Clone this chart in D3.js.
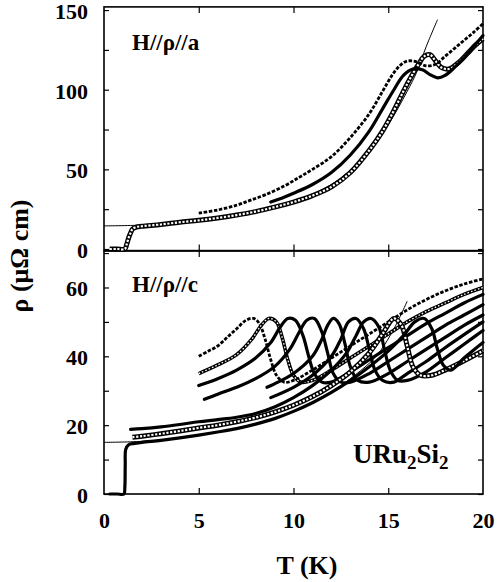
<!DOCTYPE html>
<html><head><meta charset="utf-8">
<script src="https://cdn.jsdelivr.net/npm/d3@7"></script>
<style>
html,body{margin:0;padding:0;background:#fff;}
svg text, svg tspan{font-family:"Liberation Serif","Times New Roman",Times,"DejaVu Serif",serif !important;font-weight:700 !important;}
</style></head>
<body>
<svg id="chart" width="499" height="582"></svg>
<script>
// ---------- data (T in K, rho in µΩ cm) ----------
const xTicks = [0, 5, 10, 15, 20];
const topTickLabels = [0, 50, 100, 150];
const botTickLabels = [0, 20, 40, 60];

// Top panel: H//rho//a
const topA = [[0.3,0],[0.7,0],[1.1,0],[1.2,3],[1.3,7],[1.4,10],[1.5,12.5],[1.7,13.8],[2,14.3],[3,15.4],[4,16.8],[5,18],[6,19.5],[7,21.3],[8,23.5],[9,26.3],[10,29.5],[11,33.5],[12,39],[13,48],[14,62],[14.7,74],[15.3,87],[15.8,99],[16.2,108],[16.6,116],[16.9,121],[17.2,122],[17.5,118],[17.8,114],[18.2,113],[18.7,117],[19.2,123],[19.6,128],[20,132]];
const topB = [[8.8,29.5],[9.5,32.5],[10,35],[11,40.5],[12,48],[13,59],[14,74],[14.7,88],[15.3,100],[15.8,109],[16.3,113],[16.8,112.5],[17.2,109.5],[17.6,107.5],[18,109],[18.5,114],[19,120],[19.5,127],[20,134]];
const topC = [[5,22.5],[6,24.5],[7,27.5],[7.7,30.5],[8.5,34],[9.5,39.5],[10.3,45],[11,50],[12,58],[13,70],[14,85],[14.7,99],[15.2,109],[15.6,115],[16,118],[16.5,117.5],[17,115],[17.5,116],[18,121],[18.5,126],[19,131],[19.5,136],[20,141.5]];
const topFit = [[0,14.5],[2,15],[4,16.5],[6,19],[8,23.3],[10,29.5],[12,40.5],[13,49.5],[14,62],[15,78],[16,99],[16.5,111],[17,127],[17.6,144]];

// Bottom panel: H//rho//c (highest field first)
const botC1 = [[5,40],[5.5,41.5],[6,43],[6.5,45.5],[7,48],[7.5,50.5],[7.9,51],[8.2,49.5],[8.5,45],[8.8,39],[9.1,34.5],[9.5,32.5],[10,33],[11,36],[12,39.5],[13,43],[14,46.5],[15,50],[16,53.5],[17,56.5],[18,59],[19,61],[20,62.5]];
const botC2 = [[5,35],[6,37.5],[7,40.5],[7.8,45],[8.3,49],[8.7,51],[9.1,50],[9.4,45.5],[9.7,39],[10,34.5],[10.4,32.5],[11,33],[12,36],[13,39.5],[14,43],[15,46.5],[16,50],[17,53],[18,55.5],[19,58],[20,60]];
const botC3 = [[5,31.5],[6,33.5],[7,36],[8,39.5],[8.8,44],[9.3,48.5],[9.7,51],[10.1,50.5],[10.5,46],[10.8,40],[11.1,35],[11.5,32.5],[12,32.5],[13,35.5],[14,39],[15,42.5],[16,46],[17,49.5],[18,52.5],[19,55.5],[20,58]];
const botC4 = [[5.3,27.5],[6,29],[7,31],[8,33.5],[9,37],[9.8,42],[10.3,47],[10.7,50.5],[11.1,51],[11.5,47],[11.8,41],[12.1,35],[12.5,32.5],[13,32.5],[14,35],[15,38.5],[16,42],[17,45.5],[18,49],[19,52],[20,55]];
const botC5 = [[8.6,31],[9,32],[10,35],[11,40],[11.5,45],[11.8,49],[12.1,51],[12.4,49.5],[12.7,44],[13,37],[13.4,33],[14,32.5],[15,35],[16,38.5],[17,42],[18,45.5],[19,49],[20,52]];
const botC6 = [[8.8,28],[10,31],[11,34.5],[12,40],[12.5,45],[12.9,50],[13.3,51],[13.7,48],[14,42],[14.3,36],[14.7,33],[15.3,32.5],[16,35],[17,38.5],[18,42.5],[19,46.3],[20,50]];
const botC7 = [[1.4,18.8],[2,19],[3,19.5],[4,20.2],[5,21],[6,21.6],[7,22.3],[8,23.4],[9,25.3],[10,28],[11,31.5],[12,36],[12.8,41],[13.3,46],[13.7,50],[14.1,51],[14.5,48.5],[14.8,42],[15.1,36],[15.5,33],[16,33],[17,35.5],[18,39.5],[19,43.5],[20,47.5]];
const botC8 = [[1.5,16.5],[2,16.8],[3,17.5],[4,18.3],[5,19.2],[6,20],[7,21],[8,22.2],[9,23.8],[10,25.8],[11,28.3],[12,31.5],[13,35.5],[14,41],[14.7,46.5],[15.3,51],[15.7,49],[16,43],[16.3,37],[16.7,34.5],[17.3,34.5],[18,36],[19,38.7],[20,41.6]];
const botC9 = [[0.3,0],[0.7,0],[1.05,0],[1.1,2],[1.12,8.4],[1.15,13],[1.3,14.3],[1.6,14.7],[2,15],[3,15.6],[4,16.3],[5,17.1],[6,18],[7,19],[8,20.3],[9,21.9],[10,24],[11,26.5],[12,29.5],[13,33],[14,37],[15,41.5],[15.8,46],[16.4,50],[16.9,51],[17.3,48],[17.6,42],[17.9,37.5],[18.3,36],[19,39.5],[20,44]];
const botFit = [[0,15],[2,15.3],[4,16.3],[6,18],[8,20.5],[10,24],[12,29.5],[13,33.5],[14,38],[14.6,41.7],[15.3,48],[16,56]];

// ---------- drawing ----------
const FONT = "Liberation Serif";
const svg = d3.select("#chart");
const x = d3.scaleLinear().domain([0, 20]).range([104, 483]);
const yT = d3.scaleLinear().domain([-1, 152]).range([250.6, 6.9]);
const yB = d3.scaleLinear().domain([0, 70.6]).range([494, 251]);

function panel(y, minorStep, labels) {
  const [d0, d1] = y.domain();
  const g = svg.append("g");
  const minor = d3.range(Math.ceil(d0 / minorStep) * minorStep, d1 + 0.001, minorStep);
  const left = d3.axisLeft(y).tickValues(minor).tickSize(-5).tickPadding(16)
    .tickFormat(v => labels.includes(v) ? v : "");
  g.append("g").attr("transform", `translate(${x(0)},0)`).call(left)
    .call(a => a.select(".domain").remove())
    .call(a => a.selectAll("text").style("font-size", "22px").attr("dy", "0.38em"));
  const right = d3.axisRight(y).tickValues(minor).tickSize(-5).tickFormat("");
  g.append("g").attr("transform", `translate(${x(20)},0)`).call(right)
    .call(a => a.select(".domain").remove());
  const inner = [5, 10, 15];
  g.append("g").attr("transform", `translate(0,${y(d1)})`)
    .call(d3.axisTop(x).tickValues(inner).tickSize(-6).tickFormat(""))
    .call(a => a.select(".domain").remove());
  g.append("g").attr("transform", `translate(0,${y(d0)})`)
    .call(d3.axisBottom(x).tickValues(inner).tickSize(-6).tickFormat(""))
    .call(a => a.select(".domain").remove());
  g.selectAll(".tick line").attr("stroke", "#000").attr("stroke-width", 1.2);
  g.append("rect").attr("x", x(0)).attr("y", y(d1))
    .attr("width", x(20) - x(0)).attr("height", y(d0) - y(d1))
    .attr("fill", "none").attr("stroke", "#000").attr("stroke-width", 1.6);
}
panel(yT, 25, topTickLabels);
panel(yB, 10, botTickLabels);

// bottom x-axis labels
svg.append("g").attr("transform", `translate(0,${yB(0)})`)
  .call(d3.axisBottom(x).tickValues(xTicks).tickSize(0).tickPadding(18))
  .call(a => a.select(".domain").remove())
  .call(a => a.selectAll("text").style("font-size", "22px"));

function drawSeries(data, y, style) {
  const line = d3.line().x(d => x(d[0])).y(d => y(d[1])).curve(d3.curveCatmullRom.alpha(0.5));
  const p = line(data);
  const g = svg.append("g");
  if (style === "filled") {
    g.append("path").attr("d", p).attr("fill", "none").attr("stroke", "#000")
      .attr("stroke-width", 3.2).attr("stroke-linejoin", "round").attr("stroke-linecap", "round");
  } else if (style === "open") {
    g.append("path").attr("d", p).attr("fill", "none").attr("stroke", "#000").attr("stroke-width", 5);
    g.append("path").attr("d", p).attr("fill", "none").attr("stroke", "#fff")
      .attr("stroke-width", 2.2).attr("stroke-dasharray", "2.2,1.6");
  } else if (style === "openSmall") {
    g.append("path").attr("d", p).attr("fill", "none").attr("stroke", "#000").attr("stroke-width", 3.6);
    g.append("path").attr("d", p).attr("fill", "none").attr("stroke", "#fff")
      .attr("stroke-width", 1.3).attr("stroke-dasharray", "1.6,2");
  } else if (style === "cross") {
    g.append("path").attr("d", p).attr("fill", "none").attr("stroke", "#000")
      .attr("stroke-width", 2.8).attr("stroke-dasharray", "3.5,1.6");
  } else if (style === "fit") {
    g.append("path").attr("d", p).attr("fill", "none").attr("stroke", "#000").attr("stroke-width", 1);
  }
}

// top panel series
drawSeries(topFit, yT, "fit");
drawSeries(topA, yT, "open");
drawSeries(topB, yT, "filled");
drawSeries(topC, yT, "cross");

// bottom panel series
drawSeries(botFit, yB, "fit");
drawSeries(botC1, yB, "cross");
drawSeries(botC2, yB, "openSmall");
drawSeries(botC3, yB, "filled");
drawSeries(botC4, yB, "filled");
drawSeries(botC5, yB, "filled");
drawSeries(botC6, yB, "filled");
drawSeries(botC7, yB, "filled");
drawSeries(botC8, yB, "open");
drawSeries(botC9, yB, "filled");

// labels
svg.append("text").attr("x", 132).attr("y", 50).style("font-size", "23px").text("H//ρ//a");
svg.append("text").attr("x", 132).attr("y", 292).style("font-size", "23px").text("H//ρ//c");
const u = svg.append("text").attr("x", 353).attr("y", 463).style("font-size", "27px");
u.append("tspan").text("URu");
u.append("tspan").attr("dy", 6).style("font-size", "19px").text("2");
u.append("tspan").attr("dy", -6).text("Si");
u.append("tspan").attr("dy", 6).style("font-size", "19px").text("2");

svg.append("text").attr("x", 307).attr("y", 574).attr("text-anchor", "middle")
  .style("font-size", "26px").text("T (K)");
svg.append("text").attr("transform", "translate(28,256) rotate(-90)").attr("text-anchor", "middle")
  .style("font-size", "26px").text("ρ (μΩ cm)");

svg.selectAll("text").attr("font-family", FONT).attr("font-weight", "bold").attr("fill", "#000");
svg.selectAll("g").attr("font-family", FONT);
</script>
</body></html>
